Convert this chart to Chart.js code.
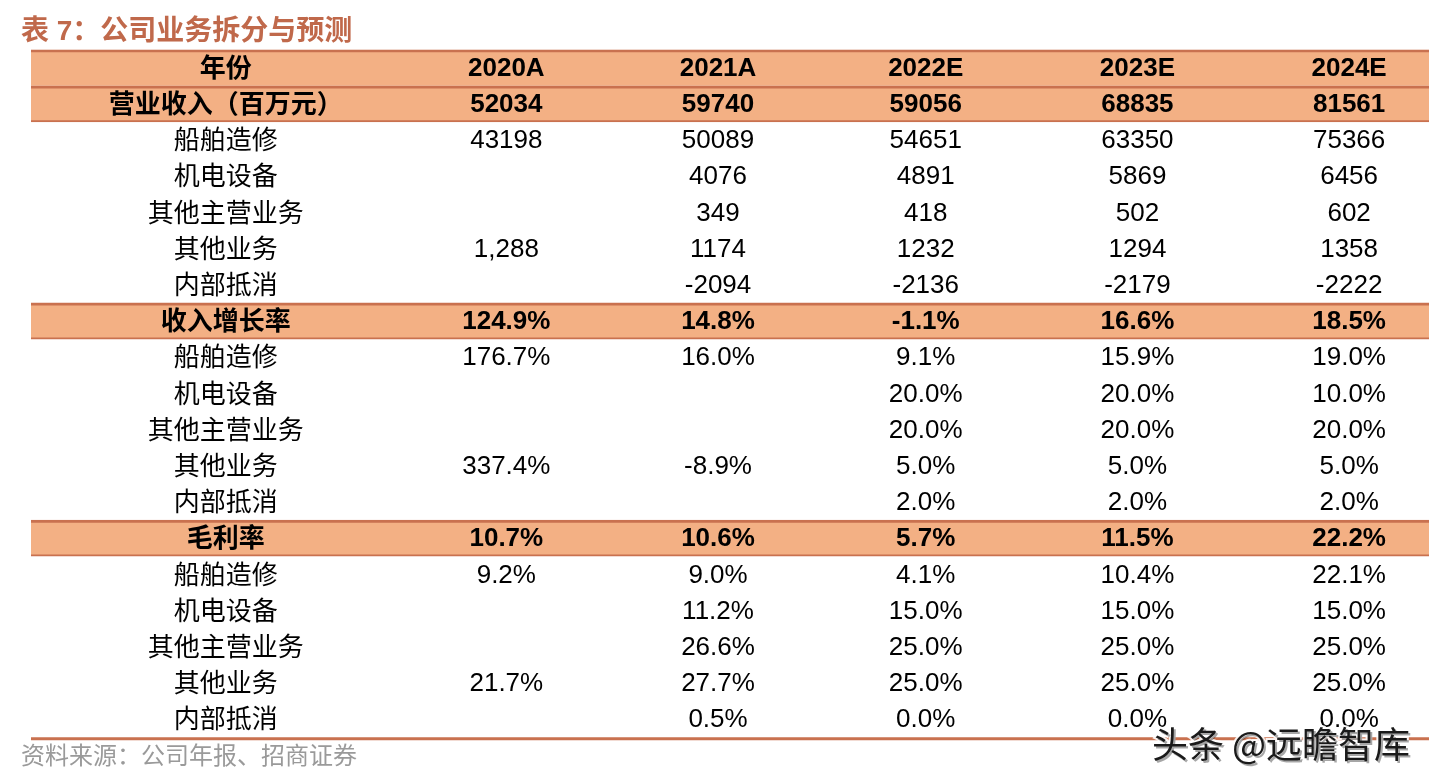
<!DOCTYPE html>
<html>
<head>
<meta charset="utf-8">
<script src="https://cdn.jsdelivr.net/npm/chart.js@4"></script>
<style>
  html, body { margin: 0; padding: 0; background: #fff; }
  #wrap { width: 1442px; height: 780px; }
</style>
</head>
<body>
<div id="wrap"><canvas id="myChart" width="1442" height="780"></canvas></div>
<script>
// table content
var years = ['2020A', '2021A', '2022E', '2023E', '2024E'];
var rowLabels = ['年份', '营业收入（百万元）', '船舶造修', '机电设备', '其他主营业务', '其他业务', '内部抵消',
                 '收入增长率', '船舶造修', '机电设备', '其他主营业务', '其他业务', '内部抵消',
                 '毛利率', '船舶造修', '机电设备', '其他主营业务', '其他业务', '内部抵消'];
var revenueTotal    = ['52034', '59740', '59056', '68835', '81561'];
var revShip         = ['43198', '50089', '54651', '63350', '75366'];
var revMech         = ['', '4076', '4891', '5869', '6456'];
var revOtherMain    = ['', '349', '418', '502', '602'];
var revOther        = ['1,288', '1174', '1232', '1294', '1358'];
var revElim         = ['', '-2094', '-2136', '-2179', '-2222'];
var growthTotal     = ['124.9%', '14.8%', '-1.1%', '16.6%', '18.5%'];
var growthShip      = ['176.7%', '16.0%', '9.1%', '15.9%', '19.0%'];
var growthMech      = ['', '', '20.0%', '20.0%', '10.0%'];
var growthOtherMain = ['', '', '20.0%', '20.0%', '20.0%'];
var growthOther     = ['337.4%', '-8.9%', '5.0%', '5.0%', '5.0%'];
var growthElim      = ['', '', '2.0%', '2.0%', '2.0%'];
var marginTotal     = ['10.7%', '10.6%', '5.7%', '11.5%', '22.2%'];
var marginShip      = ['9.2%', '9.0%', '4.1%', '10.4%', '22.1%'];
var marginMech      = ['', '11.2%', '15.0%', '15.0%', '15.0%'];
var marginOtherMain = ['', '26.6%', '25.0%', '25.0%', '25.0%'];
var marginOther     = ['21.7%', '27.7%', '25.0%', '25.0%', '25.0%'];
var marginElim      = ['', '0.5%', '0.0%', '0.0%', '0.0%'];
var bandRows = [0, 1, 7, 13];

var rowValues = [years, revenueTotal, revShip, revMech, revOtherMain, revOther, revElim,
                 growthTotal, growthShip, growthMech, growthOtherMain, growthOther, growthElim,
                 marginTotal, marginShip, marginMech, marginOtherMain, marginOther, marginElim];

var lineColor = '#c9714f';
var bandColor = '#f3b084';
var fontFamily = '"Liberation Sans", "Noto Sans CJK SC", sans-serif';
var colX = [195, 476, 688, 896, 1108, 1320]; // x-scale units, table is 0..1400

var cellText = {
  id: 'cellText',
  afterDatasetsDraw: function(chart) {
    var c = chart.ctx, xs = chart.scales.x, ys = chart.scales.y;
    c.save();
    c.textAlign = 'center';
    c.textBaseline = 'middle';
    c.fillStyle = '#000';
    rowLabels.forEach(function(lab, r) {
      var y = ys.getPixelForValue(r);
      var bold = bandRows.indexOf(r) >= 0;
      c.font = (bold ? 'bold ' : '') + '26px ' + fontFamily;
      c.fillText(lab, xs.getPixelForValue(colX[0]), y + 2);
      rowValues[r].forEach(function(v, j) {
        if (v) c.fillText(v, xs.getPixelForValue(colX[j + 1]), y + 1);
      });
    });
    // bottom rule of the table
    c.strokeStyle = lineColor;
    c.lineWidth = 3;
    c.beginPath();
    c.moveTo(chart.chartArea.left, chart.chartArea.bottom + 1.5);
    c.lineTo(chart.chartArea.right, chart.chartArea.bottom + 1.5);
    c.stroke();
    c.restore();
  },
  afterDraw: function(chart) {
    var c = chart.ctx;
    c.save();
    c.font = '36px "Noto Sans CJK SC", sans-serif';
    c.textAlign = 'left';
    c.textBaseline = 'middle';
    c.lineWidth = 4;
    c.strokeStyle = 'rgba(255,255,255,0.9)';
    c.strokeText('头条 @远瞻智库', 1152, 744);
    c.shadowColor = 'rgba(0,0,0,0.35)';
    c.shadowOffsetX = 2;
    c.shadowOffsetY = 2;
    c.fillStyle = '#1a1a1a';
    c.fillText('头条 @远瞻智库', 1152, 744);
    c.restore();
  }
};

var ctx = document.getElementById('myChart').getContext('2d');
var myChart = new Chart(ctx, {
  type: 'bar',
  data: {
    labels: rowLabels,
    datasets: [{
      data: rowLabels.map(function(_, i) { return bandRows.indexOf(i) >= 0 ? [0, 1400] : null; }),
      backgroundColor: bandColor,
      borderColor: lineColor,
      borderSkipped: false,
      borderWidth: function(c) {
        if (c.dataIndex === 0) return { top: 3, bottom: 0, left: 0, right: 0 };
        return { top: 3, bottom: 2, left: 0, right: 0 };
      },
      barPercentage: 1,
      categoryPercentage: 1
    }]
  },
  options: {
    indexAxis: 'y',
    responsive: false,
    animation: false,
    layout: { padding: { left: 21, right: 13, top: 0, bottom: 0 } },
    plugins: {
      legend: { display: false },
      tooltip: { enabled: false },
      title: {
        display: true,
        text: '表 7：公司业务拆分与预测',
        align: 'start',
        color: '#c0694b',
        font: { family: fontFamily, size: 28, weight: 'bold' },
        padding: { top: 15, bottom: 1 }
      },
      subtitle: {
        display: true,
        position: 'bottom',
        text: '资料来源：公司年报、招商证券',
        align: 'start',
        color: '#9a9a9a',
        font: { family: '"Noto Sans CJK SC", sans-serif', size: 24 },
        padding: { top: 3, bottom: 11 }
      }
    },
    scales: {
      x: { type: 'linear', min: 0, max: 1400, display: false },
      y: {
        type: 'category',
        offset: true,
        grid: { display: false },
        border: { display: false },
        ticks: { display: false },
        afterFit: function(s) { s.width = 10; }
      }
    }
  },
  plugins: [cellText]
});
</script>
</body>
</html>
